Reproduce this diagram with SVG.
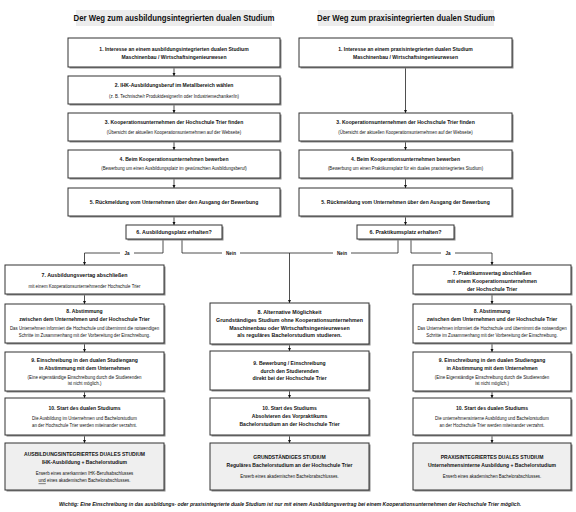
<svg xmlns="http://www.w3.org/2000/svg" width="576" height="512" viewBox="0 0 576 512">
<style>
.t{font-family:"Liberation Sans",Arial,sans-serif;text-anchor:middle;fill:#111;transform-box:fill-box;transform-origin:center;transform:scaleX(0.85)}
.h{font-size:9.2px;font-weight:bold}
.m{font-size:5.95px;font-weight:bold}
.m3{font-size:6.25px;font-weight:bold}
.s{font-size:5.15px}
.l{font-size:5.4px;font-weight:bold}
.f{font-size:5.95px;font-weight:bold;font-style:italic}
.box{fill:#fff;stroke:#333;stroke-width:1}
.fin{fill:#efefef;stroke:#333;stroke-width:1}
.sh{fill:#8a8a8a}
.ttl{fill:#ececec}
.ln{stroke:#222;stroke-width:0.8;fill:none}
.lb{fill:#fff}
</style>
<defs>
<marker id="ar" viewBox="0 0 6 6" refX="6" refY="3" markerWidth="3.4" markerHeight="3.4" markerUnits="userSpaceOnUse" orient="auto">
<path d="M0,0 L6,3 L0,6 z" fill="#111"/>
</marker>
</defs>
<rect width="576" height="512" fill="#fff"/>

<g id="title-left"><rect class="ttl" x="76" y="10" width="196" height="16"/><text class="t h" x="174" y="21.3">Der Weg zum ausbildungsintegrierten dualen Studium</text></g>
<g id="title-right"><rect class="ttl" x="318" y="10" width="176" height="16"/><text class="t h" x="406" y="21.3">Der Weg zum praxisintegrierten dualen Studium</text></g>

<g id="connectors">
<line class="ln" x1="174" y1="67" x2="174" y2="76" marker-end="url(#ar)"/>
<line class="ln" x1="174" y1="104" x2="174" y2="113" marker-end="url(#ar)"/>
<line class="ln" x1="174" y1="141" x2="174" y2="150" marker-end="url(#ar)"/>
<line class="ln" x1="174" y1="178" x2="174" y2="188" marker-end="url(#ar)"/>
<line class="ln" x1="174" y1="216" x2="174" y2="225" marker-end="url(#ar)"/>
<line class="ln" x1="405.5" y1="67" x2="405.5" y2="113" marker-end="url(#ar)"/>
<line class="ln" x1="405.5" y1="141" x2="405.5" y2="150" marker-end="url(#ar)"/>
<line class="ln" x1="405.5" y1="178" x2="405.5" y2="188" marker-end="url(#ar)"/>
<line class="ln" x1="405.5" y1="216" x2="405.5" y2="225" marker-end="url(#ar)"/>
<polyline class="ln" points="163,240 163,253 84.5,253 84.5,265" marker-end="url(#ar)"/>
<polyline class="ln" points="182,240 182,253 398,253 398,240"/>
<line class="ln" x1="289.5" y1="253" x2="289.5" y2="303" marker-end="url(#ar)"/>
<polyline class="ln" points="411,240 411,253 492,253 492,265" marker-end="url(#ar)"/>
<rect class="lb" x="120" y="249" width="14" height="8"/>
<text class="t l" x="127" y="254.9">Ja</text>
<rect class="lb" x="222" y="249" width="18" height="8"/>
<text class="t l" x="231" y="254.9">Nein</text>
<rect class="lb" x="333" y="249" width="18" height="8"/>
<text class="t l" x="342" y="254.9">Nein</text>
<rect class="lb" x="441" y="249" width="14" height="8"/>
<text class="t l" x="448" y="254.9">Ja</text>
<line class="ln" x1="84.5" y1="294" x2="84.5" y2="304" marker-end="url(#ar)"/>
<line class="ln" x1="84.5" y1="343" x2="84.5" y2="352" marker-end="url(#ar)"/>
<line class="ln" x1="84.5" y1="391" x2="84.5" y2="398" marker-end="url(#ar)"/>
<line class="ln" x1="84.5" y1="435" x2="84.5" y2="443" marker-end="url(#ar)"/>
<line class="ln" x1="289.5" y1="344" x2="289.5" y2="351" marker-end="url(#ar)"/>
<line class="ln" x1="289.5" y1="390" x2="289.5" y2="398" marker-end="url(#ar)"/>
<line class="ln" x1="289.5" y1="435" x2="289.5" y2="443" marker-end="url(#ar)"/>
<line class="ln" x1="492" y1="294" x2="492" y2="304" marker-end="url(#ar)"/>
<line class="ln" x1="492" y1="343" x2="492" y2="352" marker-end="url(#ar)"/>
<line class="ln" x1="492" y1="391" x2="492" y2="398" marker-end="url(#ar)"/>
<line class="ln" x1="492" y1="435" x2="492" y2="443" marker-end="url(#ar)"/>
</g>

<g id="a1"><rect class="sh" x="69.5" y="39.5" width="212" height="29"/><rect class="box" x="68" y="38" width="212" height="29"/>
<text class="t m" x="174" y="51.5">1. Interesse an einem ausbildungsintegrierten dualen Studium</text>
<text class="t m" x="174" y="59">Maschinenbau / Wirtschaftsingenieurwesen</text></g>
<g id="a2"><rect class="sh" x="69.5" y="77.5" width="212" height="28"/><rect class="box" x="68" y="76" width="212" height="28"/>
<text class="t m" x="174" y="87">2. IHK-Ausbildungsberuf im Metallbereich wählen</text>
<text class="t s" x="174" y="98">(z. B. Technische/r Produktdesigner/in oder Industriemechaniker/in)</text></g>
<g id="a3"><rect class="sh" x="69.5" y="114.5" width="212" height="28"/><rect class="box" x="68" y="113" width="212" height="28"/>
<text class="t m" x="174" y="124">3. Kooperationsunternehmen der Hochschule Trier finden</text>
<text class="t s" x="174" y="134.5">(Übersicht der aktuellen Kooperationsunternehmen auf der Webseite)</text></g>
<g id="a4"><rect class="sh" x="69.5" y="151.5" width="212" height="28"/><rect class="box" x="68" y="150" width="212" height="28"/>
<text class="t m" x="174" y="161">4. Beim Kooperationsunternehmen bewerben</text>
<text class="t s" x="174" y="170.5">(Bewerbung um einen Ausbildungsplatz im gewünschten Ausbildungsberuf)</text></g>
<g id="a5"><rect class="sh" x="69.5" y="189.5" width="212" height="28"/><rect class="box" x="68" y="188" width="212" height="28"/>
<text class="t m" x="174" y="204">5. Rückmeldung vom Unternehmen über den Ausgang der Bewerbung</text></g>
<g id="a6"><rect class="sh" x="127.5" y="226.5" width="96" height="14"/><rect class="box" x="126" y="225" width="96" height="14"/>
<text class="t m3" x="174" y="234.3">6. Ausbildungsplatz erhalten?</text></g>

<g id="p1"><rect class="sh" x="300.5" y="39.5" width="213" height="29"/><rect class="box" x="299" y="38" width="213" height="29"/>
<text class="t m" x="405.5" y="51.5">1. Interesse an einem praxisintegrierten dualen Studium</text>
<text class="t m" x="405.5" y="59">Maschinenbau / Wirtschaftsingenieurwesen</text></g>
<g id="p3"><rect class="sh" x="300.5" y="114.5" width="213" height="28"/><rect class="box" x="299" y="113" width="213" height="28"/>
<text class="t m" x="405.5" y="124">3. Kooperationsunternehmen der Hochschule Trier finden</text>
<text class="t s" x="405.5" y="134.5">(Übersicht der aktuellen Kooperationsunternehmen auf der Webseite)</text></g>
<g id="p4"><rect class="sh" x="300.5" y="151.5" width="213" height="28"/><rect class="box" x="299" y="150" width="213" height="28"/>
<text class="t m" x="405.5" y="161">4. Beim Kooperationsunternehmen bewerben</text>
<text class="t s" x="405.5" y="170.5">(Bewerbung um einen Praktikumsplatz für ein duales praxisintegriertes Studium)</text></g>
<g id="p5"><rect class="sh" x="300.5" y="189.5" width="213" height="28"/><rect class="box" x="299" y="188" width="213" height="28"/>
<text class="t m" x="405.5" y="204">5. Rückmeldung vom Unternehmen über den Ausgang der Bewerbung</text></g>
<g id="p6"><rect class="sh" x="358.5" y="226.5" width="97" height="14"/><rect class="box" x="357" y="225" width="97" height="14"/>
<text class="t m3" x="405.5" y="234.3">6. Praktikumsplatz erhalten?</text></g>

<g id="a7"><rect class="sh" x="6.5" y="266.5" width="159" height="29"/><rect class="box" x="5" y="265" width="159" height="29"/>
<text class="t m3" x="84.5" y="277">7. Ausbildungsvertag abschließen</text>
<text class="t s" x="84.5" y="288.5">mit einem Kooperationsunternehmender Hochschule Trier</text></g>
<g id="a8"><rect class="sh" x="6.5" y="305.5" width="159" height="39"/><rect class="box" x="5" y="304" width="159" height="39"/>
<text class="t m" x="84.5" y="313">8. Abstimmung</text>
<text class="t m" x="84.5" y="321">zwischen dem Unternehmen und der Hochschule Trier</text>
<text class="t s" x="84.5" y="330.5">Das Unternehmen informiert die Hochschule und übernimmt die notwendigen</text>
<text class="t s" x="84.5" y="337.5">Schritte im Zusammenhang mit der Vorbereitung der Einschreibung.</text></g>
<g id="a9"><rect class="sh" x="6.5" y="353.5" width="159" height="39"/><rect class="box" x="5" y="352" width="159" height="39"/>
<text class="t m" x="84.5" y="362">9. Einschreibung in den dualen Studiengang</text>
<text class="t m" x="84.5" y="370">in Abstimmung mit dem Unternehmen</text>
<text class="t s" x="84.5" y="379.5">(Eine eigenständige Einschreibung durch die Studierenden</text>
<text class="t s" x="84.5" y="385.5">ist nicht möglich.)</text></g>
<g id="a10"><rect class="sh" x="6.5" y="399.5" width="159" height="37"/><rect class="box" x="5" y="398" width="159" height="37"/>
<text class="t m" x="84.5" y="410">10. Start des dualen Studiums</text>
<text class="t s" x="84.5" y="420.5">Die Ausbildung im Unternehmen und Bachelorstudium</text>
<text class="t s" x="84.5" y="427.5">an der Hochschule Trier werden miteinander verzahnt.</text></g>
<g id="a11"><rect class="sh" x="6.5" y="444.5" width="159" height="47"/><rect class="fin" x="5" y="443" width="159" height="47"/>
<text class="t m" x="84.5" y="456">AUSBILDUNGSINTEGRIERTES DUALES STUDIUM</text>
<text class="t m" x="84.5" y="464">IHK-Ausbildung + Bachelorstudium</text>
<text class="t s" x="84.5" y="475.5">Erwerb eines anerkannten IHK-Berufsabschlusses</text>
<text class="t s" x="84.5" y="482.5"><tspan text-decoration="underline">und</tspan> eines akademischen Bachelorabschlusses.</text></g>

<g id="c8"><rect class="sh" x="211.5" y="304.5" width="159" height="41"/><rect class="box" x="210" y="303" width="159" height="41"/>
<text class="t m3" x="289.5" y="314">8. Alternative Möglichkeit</text>
<text class="t m3" x="289.5" y="322">Grundständiges Studium ohne Kooperationsunternehmen</text>
<text class="t m3" x="289.5" y="330">Maschinenbau oder Wirtschaftsingenieurwesen</text>
<text class="t m3" x="289.5" y="337.5">als reguläres Bachelorstudium studieren.</text></g>
<g id="c9"><rect class="sh" x="211.5" y="352.5" width="159" height="39"/><rect class="box" x="210" y="351" width="159" height="39"/>
<text class="t m" x="289.5" y="365">9. Bewerbung / Einschreibung</text>
<text class="t m" x="289.5" y="373">durch den Studierenden</text>
<text class="t m" x="289.5" y="380.5">direkt bei der Hochschule Trier</text></g>
<g id="c10"><rect class="sh" x="211.5" y="399.5" width="159" height="37"/><rect class="box" x="210" y="398" width="159" height="37"/>
<text class="t m" x="289.5" y="410">10. Start des Studiums</text>
<text class="t m" x="289.5" y="418">Absolvieren des Vorpraktikums</text>
<text class="t m" x="289.5" y="426">Bachelorstudium an der Hochschule Trier</text></g>
<g id="c11"><rect class="sh" x="211.5" y="444.5" width="159" height="47"/><rect class="fin" x="210" y="443" width="159" height="47"/>
<text class="t m" x="289.5" y="459">GRUNDSTÄNDIGES STUDIUM</text>
<text class="t m" x="289.5" y="467.5">Reguläres Bachelorstudium an der Hochschule Trier</text>
<text class="t s" x="289.5" y="478.5">Erwerb eines akademischen Bachelorabschlusses.</text></g>

<g id="p7"><rect class="sh" x="414.5" y="266.5" width="158" height="29"/><rect class="box" x="413" y="265" width="158" height="29"/>
<text class="t m" x="492" y="275">7. Praktikumsvertag abschließen</text>
<text class="t m" x="492" y="283">mit einem Kooperationsunternehmen</text>
<text class="t m" x="492" y="291">der Hochschule Trier</text></g>
<g id="p8"><rect class="sh" x="414.5" y="305.5" width="158" height="39"/><rect class="box" x="413" y="304" width="158" height="39"/>
<text class="t m" x="492" y="313">8. Abstimmung</text>
<text class="t m" x="492" y="321">zwischen dem Unternehmen und der Hochschule Trier</text>
<text class="t s" x="492" y="330.5">Das Unternehmen informiert die Hochschule und übernimmt die notwendigen</text>
<text class="t s" x="492" y="337.5">Schritte im Zusammenhang mit der Vorbereitung der Einschreibung.</text></g>
<g id="p9"><rect class="sh" x="414.5" y="353.5" width="158" height="39"/><rect class="box" x="413" y="352" width="158" height="39"/>
<text class="t m" x="492" y="362">9. Einschreibung in den dualen Studiengang</text>
<text class="t m" x="492" y="370">in Abstimmung mit dem Unternehmen</text>
<text class="t s" x="492" y="379.5">(Eine Eigenständige Einschreibung durch die Studierenden</text>
<text class="t s" x="492" y="385.5">ist nicht möglich.)</text></g>
<g id="p10"><rect class="sh" x="414.5" y="399.5" width="158" height="37"/><rect class="box" x="413" y="398" width="158" height="37"/>
<text class="t m" x="492" y="410">10. Start des dualen Studiums</text>
<text class="t s" x="492" y="420.5">Die unternehmensinterne Ausbildung und Bachelorstudium</text>
<text class="t s" x="492" y="427.5">an der Hochschule Trier werden miteinander verzahnt.</text></g>
<g id="p11"><rect class="sh" x="414.5" y="444.5" width="158" height="47"/><rect class="fin" x="413" y="443" width="158" height="47"/>
<text class="t m" x="492" y="459">PRAXISINTEGRIERTES DUALES STUDIUM</text>
<text class="t m" x="492" y="467.5">Unternehmensinterne Ausbildung + Bachelorstudium</text>
<text class="t s" x="492" y="478.5">Erwerb eines akademischen Bachelorabschlusses.</text></g>

<g id="footnote"><text class="t f" x="290" y="506">Wichtig: Eine Einschreibung in das ausbildungs- oder praxisintegrierte duale Studium ist nur mit einem Ausbildungsvertrag bei einem Kooperationsunternehmen der Hochschule Trier möglich.</text></g>
</svg>
